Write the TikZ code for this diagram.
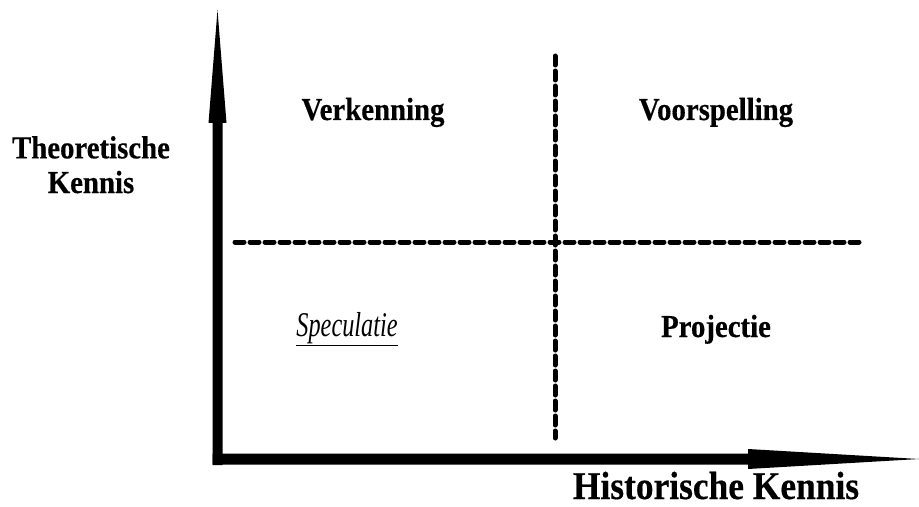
\documentclass[tikz,border=0pt]{standalone}
\usepackage{fontspec}
\setmainfont{Liberation Serif}
\newfontfamily\labfont[FakeStretch=0.90,FakeBold=0.4]{Liberation Serif}
\newfontfamily\itfont[FakeStretch=0.70]{Liberation Serif}
\tikzset{
  quadlabel/.style={font=\labfont\bfseries\fontsize{24}{26}\selectfont, anchor=base},
  axislabel/.style={font=\labfont\bfseries\fontsize{24}{26}\selectfont, align=center, anchor=base},
  divider/.style={line width=3.75pt, line cap=round, dash pattern=on 6.75pt off 4.5pt}
}
\begin{document}
\begin{tikzpicture}[x=0.75pt,y=0.75pt,yscale=-1,xscale=1]
\useasboundingbox (0,0) rectangle (919,506);

%Vertical axis (shaft + long head)
\fill[black] (212.5,465) -- (212.5,123) -- (208.5,123) -- (217.5,10) -- (226.5,123) -- (222.5,123) -- (222.5,465) -- cycle;
%Horizontal axis (shaft + long head)
\fill[black] (212.5,453.5) -- (748,453.5) -- (748,449) -- (919,459) -- (748,469) -- (748,464.5) -- (212.5,464.5) -- cycle;

%Dashed dividers
\coordinate (vtop) at (555,56);
\coordinate (vbot) at (555,438);
\coordinate (hleft) at (235,242);
\coordinate (hright) at (860,242);
\draw[divider] (vtop) -- (vbot);
\draw[divider] (hleft) -- (hright);

% Quadrant labels
\node[quadlabel] (verk) at (373,120) {Verkenning};
\node[quadlabel] (voor) at (716,120) {Voorspelling};
\node[anchor=base, font=\itfont\itshape\fontsize{26}{28}\selectfont] (spec) at (347,336) {\underline{Speculatie}};
\node[quadlabel] (proj) at (716,337) {Projectie};

% Axis labels
\node[axislabel] (theo) at (91,193) {Theoretische\\Kennis};
\node[quadlabel, inner sep=0pt, font=\labfont\bfseries\fontsize{29.5}{31}\selectfont] (hist) at (716,499) {Historische Kennis};
\end{tikzpicture}
\end{document}
